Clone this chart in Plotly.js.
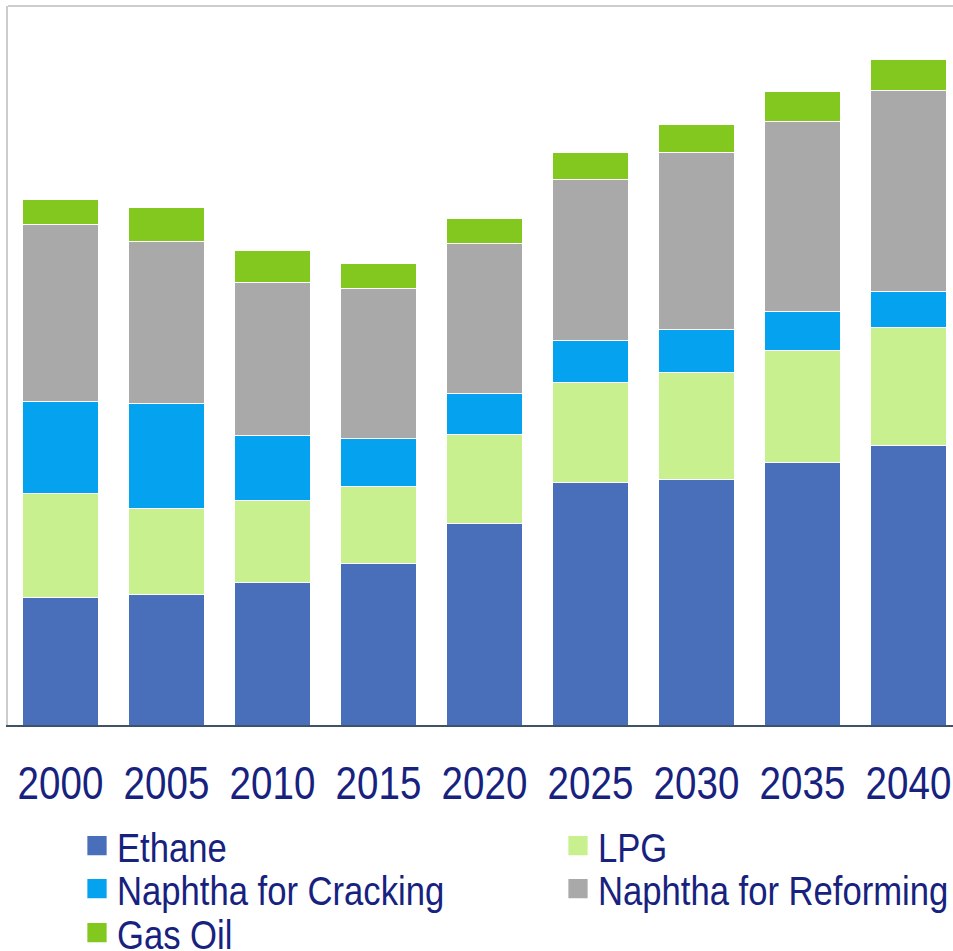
<!DOCTYPE html>
<html>
<head>
<meta charset="utf-8">
<script src="https://cdn.plot.ly/plotly-3.0.1.min.js"></script>
<style>
html,body{margin:0;padding:0;background:#fff;}
#chart{width:953px;height:951px;}
</style>
</head>
<body>
<div id="chart"></div>
<script>
const years = ['2000','2005','2010','2015','2020','2025','2030','2035','2040'];
const ethane   = [6.4, 6.55, 7.15, 8.1, 10.1, 12.15, 12.3, 13.15, 14.0];
const lpg      = [5.2, 4.3, 4.1, 3.85, 4.45, 5.0, 5.35, 5.6, 5.9];
const naphthaCracking  = [4.6, 5.25, 3.25, 2.4, 2.05, 2.1, 2.15, 1.95, 1.8];
const naphthaReforming = [8.85, 8.1, 7.65, 7.5, 7.5, 8.05, 8.85, 9.5, 10.05];
const gasOil   = [1.25, 1.7, 1.6, 1.25, 1.25, 1.35, 1.4, 1.5, 1.55];
const seriesNames = ['Ethane','LPG','Naphtha for Cracking','Naphtha for Reforming','Gas Oil'];

const colors = ['#4a6fba','#c8f08f','#05a2ef','#a9a9a9','#82c81e'];
const values = [ethane, lpg, naphthaCracking, naphthaReforming, gasOil];
const legendIds = ['legend','legend2','legend3','legend4','legend5'];

const traces = values.map((v,i)=>({
  type:'bar', x: years, y: v, name: seriesNames[i],
  marker:{color: colors[i], line:{color:'#ffffff', width:1}},
  legend: legendIds[i], hoverinfo:'skip'
}));

const textColor = '#17227f';
const fam = '"Liberation Sans", Arial, sans-serif';
const W = 953, H = 951;
const colX = [77/W, 558/W];
const rowY = [1-846/H, 1-889/H, 1-933/H];
function leg(x,y){
  return {xref:'container', yref:'container', x:x, y:y, xanchor:'left', yanchor:'middle',
    orientation:'h', bgcolor:'rgba(0,0,0,0)', borderwidth:0,
    font:{family:fam, size:41, color:textColor}, traceorder:'normal'};
}

const layout = {
  width: W, height: H,
  margin:{l:8, r:0, t:6, b:226, pad:0},
  paper_bgcolor:'#ffffff', plot_bgcolor:'#ffffff',
  barmode:'stack', bargap:0.29,
  showlegend:true,
  legend: leg(colX[0], rowY[0]),
  legend2: leg(colX[1], rowY[0]),
  legend3: leg(colX[0], rowY[1]),
  legend4: leg(colX[1], rowY[1]),
  legend5: leg(colX[0], rowY[2]),
  xaxis:{type:'category', range:[-0.495, 8.42], showline:true, linecolor:'#3d5468', linewidth:2,
    ticks:'', showgrid:false, zeroline:false, ticklabelstandoff:16, tickangle:0,
    tickfont:{family:fam, size:47, color:textColor}},
  yaxis:{range:[0, 35.95], showline:true, linecolor:'#cccccc', linewidth:2, showgrid:false,
    zeroline:false, showticklabels:false, ticks:''},
  shapes:[{type:'line', xref:'paper', yref:'paper', x0:0, x1:1, y0:1, y1:1,
    line:{color:'#cccccc', width:2}}]
};

function condense(el, K){
  const t = el.getAttribute('transform') || '';
  if (t.indexOf('scale(' + K + ',1)') >= 0) return;
  const x = parseFloat(el.getAttribute('x') || '0');
  el.setAttribute('transform', t + ' translate(' + x + ',0) scale(' + K + ',1) translate(' + (-x) + ',0)');
}
function enlarge(p){
  const t = p.getAttribute('transform') || '';
  if (t.indexOf('scale(1.75)') >= 0) return;
  p.setAttribute('transform', t + ' scale(1.75)');
}
function polish(gd){
  gd.querySelectorAll('.infolayer [class*="legendpoints"] path').forEach(enlarge);
  gd.querySelectorAll('.xtick text').forEach(el=>condense(el, 0.82));
  gd.querySelectorAll('.infolayer text').forEach(el=>condense(el, 0.845));
}

const gdEl = document.getElementById('chart');
const obs = new MutationObserver(()=>polish(gdEl));
obs.observe(gdEl, {subtree:true, childList:true, attributes:true, attributeFilter:['transform','x']});

Plotly.newPlot('chart', traces, layout, {displayModeBar:false, staticPlot:true}).then(gd=>{
  polish(gd);
  requestAnimationFrame(()=>polish(gd));
  setTimeout(()=>polish(gd), 50);
  setTimeout(()=>polish(gd), 300);
});
</script>
</body>
</html>
